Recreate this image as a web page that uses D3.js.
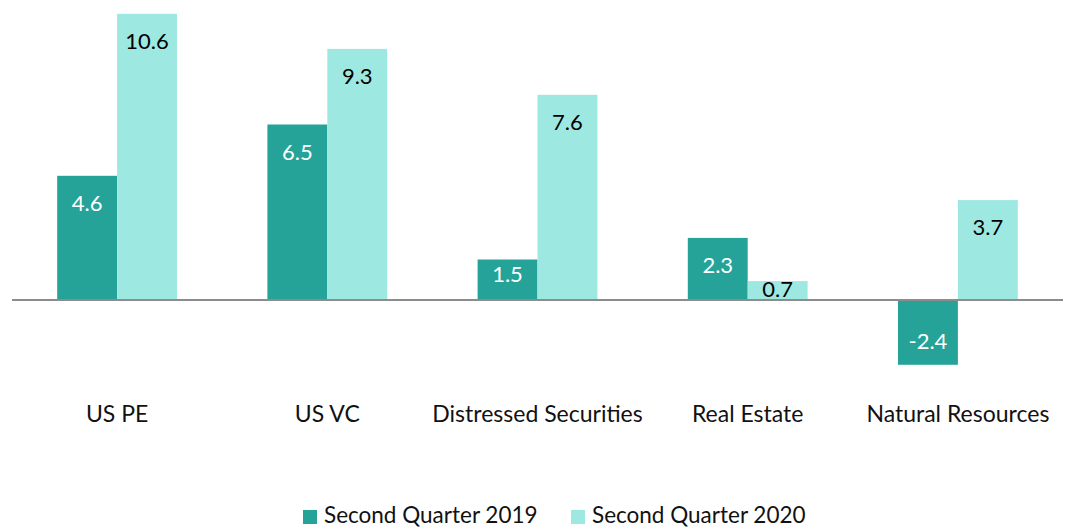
<!DOCTYPE html>
<html><head><meta charset="utf-8">
<script src="https://cdn.jsdelivr.net/npm/d3@7"></script>
<style>
html,body{margin:0;padding:0;background:#fff;}
svg{display:block;font-family:"Source Sans Pro","Lato","Noto Sans",sans-serif;}
</style></head>
<body><svg id="c" width="1065" height="527"></svg>
<script>
const categories = ["US PE","US VC","Distressed Securities","Real Estate","Natural Resources"];
const seriesNames = ["Second Quarter 2019","Second Quarter 2020"];
const q2019 = [4.6, 6.5, 1.5, 2.3, -2.4];
const q2020 = [10.6, 9.3, 7.6, 0.7, 3.7];
const colors = ["#26a399","#9ee8e2"];
const labelColors = ["#ffffff","#000000"];

const svg = d3.select("#c");
const x = d3.scaleBand().domain(categories).range([12,1063]).paddingInner(0.43).paddingOuter(0.215);
const xs = d3.scaleBand().domain([0,1]).range([0,x.bandwidth()]).padding(0);
const y = d3.scaleLinear().domain([-4,11]).range([408,3]);

const data = [];
categories.forEach((c,i)=>{
  [q2019[i], q2020[i]].forEach((v,s)=>data.push({c,s,v}));
});

const g = svg.append("g");
g.selectAll("rect").data(data).enter().append("rect")
  .attr("x",d=>x(d.c)+xs(d.s))
  .attr("width",xs.bandwidth())
  .attr("y",d=>Math.min(y(d.v),y(0)))
  .attr("height",d=>Math.abs(y(d.v)-y(0)))
  .attr("fill",d=>colors[d.s]);

// zero line
svg.append("line").attr("x1",12).attr("x2",1063).attr("y1",y(0)).attr("y2",y(0))
  .attr("stroke","#8c8c8c").attr("stroke-width",2);

// value labels
g.selectAll("text.v").data(data).enter().append("text")
  .attr("class","v")
  .attr("x",d=>x(d.c)+xs(d.s)+xs.bandwidth()/2)
  .attr("y",d=>{
    const h = Math.abs(y(d.v)-y(0));
    if(d.v>=0){ const off = Math.max(1, Math.min(20, h-33)); return y(d.v)+off+15; }
    return y(0)+49;
  })
  .attr("text-anchor","middle")
  .attr("font-size",22)
  .attr("fill",d=>labelColors[d.s])
  .text(d=>d.v.toFixed(1));

// category labels
svg.selectAll("text.cat").data(categories).enter().append("text")
  .attr("class","cat")
  .attr("x",d=>x(d)+x.bandwidth()/2)
  .attr("y",422)
  .attr("text-anchor","middle")
  .attr("font-size",23)
  .attr("fill","#111")
  .text(d=>d);

// legend
const legX = [303,571];
const lg = svg.selectAll("g.leg").data(seriesNames).enter().append("g").attr("class","leg")
  .attr("transform",(d,i)=>`translate(${legX[i]},0)`);
lg.append("rect").attr("x",0).attr("y",510).attr("width",14).attr("height",14).attr("fill",(d,i)=>colors[i]);
lg.append("text").attr("x",21).attr("y",523).attr("font-size",22.5).attr("fill","#111").text(d=>d);
</script></body></html>
